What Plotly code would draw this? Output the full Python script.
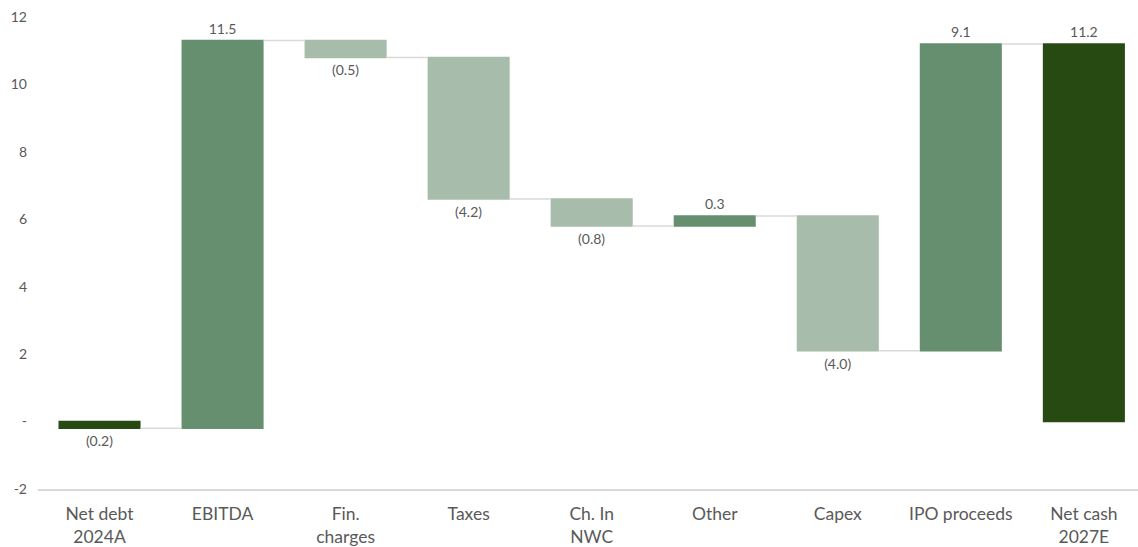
import plotly.graph_objects as go

categories = ["Net debt<br>2024A", "EBITDA", "Fin.<br>charges", "Taxes", "Ch. In<br>NWC",
              "Other", "Capex", "IPO proceeds", "Net cash<br>2027E"]
values = [-0.2, 11.5, -0.5, -4.2, -0.8, 0.3, -4.0, 9.1, 11.2]
measures = ["absolute", "relative", "relative", "relative", "relative",
            "relative", "relative", "relative", "total"]
y_ticks = [-2, 0, 2, 4, 6, 8, 10, 12]
y_tick_labels = ["-2", "-", "2", "4", "6", "8", "10", "12"]


def fmt(v):
    return f"({abs(v):.1f})" if v < 0 else f"{v:.1f}"


labels = [fmt(v) for v in values]
# total bar: value 11.2 is the absolute level
values_plot = values[:-1] + [0]

DARK = "#274a13"
MID = "#658f6f"
LIGHT = "#a7bcaa"
TXT = "#595959"
FONT = "Lato"

fig = go.Figure(go.Waterfall(
    x=categories,
    y=values_plot,
    measure=measures,
    text=labels,
    textinfo="text",
    textposition="outside",
    textfont=dict(family=FONT, size=14, color=TXT),
    cliponaxis=False,
    increasing=dict(marker=dict(color=MID)),
    decreasing=dict(marker=dict(color=LIGHT)),
    totals=dict(marker=dict(color=DARK)),
    connector=dict(line=dict(color="#d9d9d9", width=1.5), mode="between"),
    hoverinfo="skip",
))

fig.update_layout(
    width=1138, height=547,
    margin=dict(l=38, r=0, t=17, b=56),
    plot_bgcolor="white", paper_bgcolor="white",
    waterfallgap=0.333,
    showlegend=False,
    font=dict(family=FONT, color=TXT),
    xaxis=dict(
        range=[-0.5, 8.44],
        showgrid=False, zeroline=False,
        showline=True, linecolor="#d9d9d9", linewidth=1.5,
        ticks="", tickfont=dict(family=FONT, size=17.5, color=TXT),
        ticklabelstandoff=8,
        fixedrange=True,
    ),
    yaxis=dict(
        range=[-2, 12],
        tickvals=y_ticks, ticktext=y_tick_labels,
        showgrid=False, zeroline=False, showline=False,
        ticks="", tickfont=dict(family=FONT, size=14, color=TXT),
        ticklabelstandoff=10,
        fixedrange=True,
    ),
)

fig.write_html("out.html")
